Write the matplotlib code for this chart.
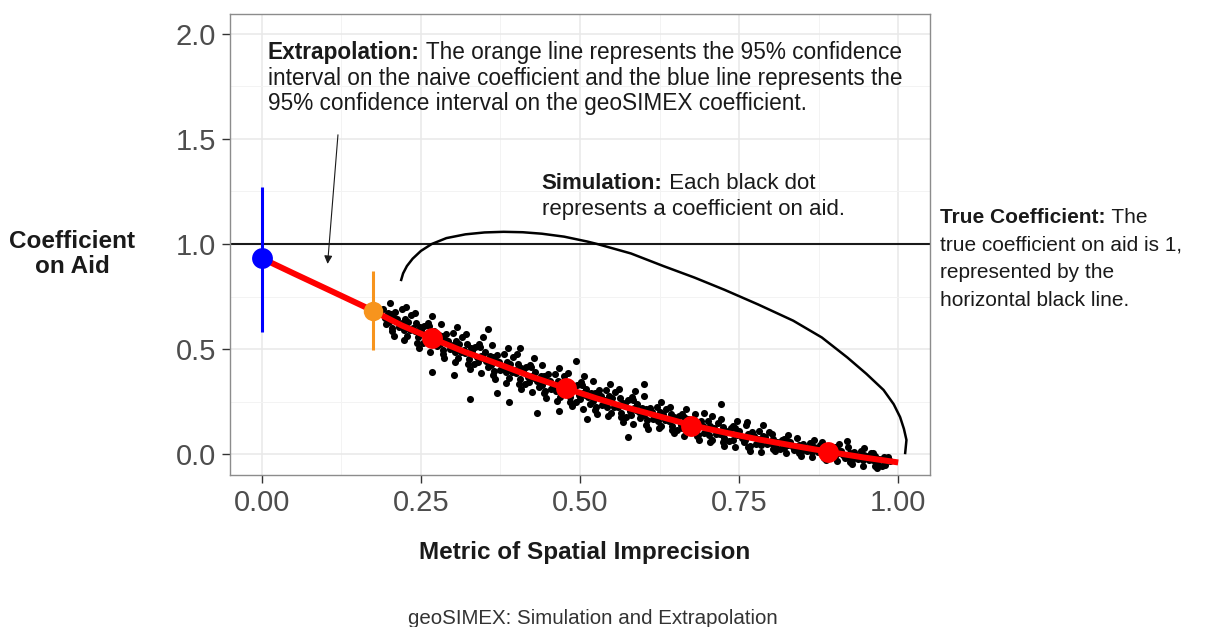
import matplotlib.pyplot as plt

plt.rcParams['font.family'] = 'Liberation Sans'

# simulated coefficients (black dots): dense core of the cloud
sim_x = [
    0.190, 0.193, 0.195, 0.198, 0.200, 0.203, 0.205, 0.208, 0.210, 0.213, 0.215, 0.218,
    0.220, 0.223, 0.225, 0.228, 0.230, 0.233, 0.235, 0.238, 0.240, 0.243, 0.245, 0.248,
    0.250, 0.253, 0.255, 0.258, 0.260, 0.263, 0.265, 0.268, 0.270, 0.273, 0.275, 0.278,
    0.280, 0.283, 0.285, 0.288, 0.290, 0.293, 0.295, 0.298, 0.300, 0.303, 0.305, 0.308,
    0.310, 0.313, 0.315, 0.318, 0.320, 0.323, 0.325, 0.328, 0.330, 0.333, 0.335, 0.338,
    0.340, 0.343, 0.345, 0.348, 0.350, 0.353, 0.355, 0.358, 0.360, 0.363, 0.365, 0.368,
    0.370, 0.373, 0.375, 0.378, 0.380, 0.383, 0.385, 0.388, 0.390, 0.393, 0.395, 0.398,
    0.400, 0.403, 0.405, 0.408, 0.410, 0.413, 0.415, 0.418, 0.420, 0.423, 0.425, 0.428,
    0.430, 0.433, 0.435, 0.438, 0.440, 0.443, 0.445, 0.448, 0.450, 0.453, 0.455, 0.458,
    0.460, 0.463, 0.465, 0.468, 0.470, 0.473, 0.475, 0.478, 0.480, 0.483, 0.485, 0.488,
    0.490, 0.493, 0.495, 0.498, 0.500, 0.503, 0.505, 0.508, 0.510, 0.513, 0.515, 0.518,
    0.520, 0.523, 0.525, 0.528, 0.530, 0.533, 0.535, 0.538, 0.540, 0.543, 0.545, 0.548,
    0.550, 0.553, 0.555, 0.558, 0.560, 0.563, 0.565, 0.568, 0.570, 0.573, 0.575, 0.578,
    0.580, 0.583, 0.585, 0.588, 0.590, 0.593, 0.595, 0.598, 0.600, 0.603, 0.605, 0.608,
    0.610, 0.613, 0.615, 0.618, 0.620, 0.623, 0.625, 0.628, 0.630, 0.633, 0.635, 0.638,
    0.640, 0.643, 0.645, 0.648, 0.650, 0.653, 0.655, 0.658, 0.660, 0.663, 0.665, 0.668,
    0.670, 0.673, 0.675, 0.678, 0.680, 0.683, 0.685, 0.688, 0.690, 0.693, 0.695, 0.698,
    0.700, 0.703, 0.705, 0.708,
    0.710, 0.714, 0.717, 0.720, 0.724, 0.727, 0.730, 0.734, 0.737, 0.740, 0.744, 0.747,
    0.750, 0.754, 0.757, 0.760, 0.764, 0.767, 0.770, 0.774, 0.777, 0.780, 0.784, 0.787,
    0.790, 0.794, 0.797, 0.800, 0.804, 0.807, 0.810, 0.814, 0.817, 0.820, 0.824, 0.827,
    0.830, 0.834, 0.837, 0.840, 0.844, 0.847, 0.850, 0.854, 0.857, 0.860, 0.864, 0.867,
    0.870, 0.874, 0.877, 0.880, 0.884, 0.887, 0.890, 0.894, 0.897, 0.900, 0.904, 0.907,
    0.910, 0.914, 0.917, 0.920, 0.924, 0.927, 0.930, 0.934, 0.937, 0.940, 0.944, 0.947,
    0.950, 0.954, 0.957, 0.960, 0.964, 0.967, 0.970, 0.974, 0.977, 0.980, 0.984, 0.987,
]
sim_y = [
    0.690, 0.650, 0.620, 0.670, 0.628, 0.668, 0.598, 0.648, 0.675, 0.645, 0.605, 0.615,
    0.622, 0.592, 0.642, 0.562, 0.630, 0.590, 0.660, 0.600, 0.585, 0.625, 0.555, 0.605,
    0.590, 0.530, 0.610, 0.560, 0.538, 0.608, 0.568, 0.558, 0.585, 0.545, 0.515, 0.565,
    0.523, 0.563, 0.493, 0.543, 0.570, 0.540, 0.500, 0.510, 0.518, 0.488, 0.538, 0.458,
    0.525, 0.485, 0.555, 0.495, 0.483, 0.523, 0.453, 0.503, 0.490, 0.430, 0.510, 0.460,
    0.438, 0.508, 0.468, 0.458, 0.485, 0.445, 0.415, 0.465, 0.423, 0.463, 0.393, 0.443,
    0.470, 0.440, 0.400, 0.410, 0.420, 0.390, 0.440, 0.360, 0.430, 0.390, 0.460, 0.400,
    0.388, 0.428, 0.358, 0.408, 0.395, 0.335, 0.415, 0.365, 0.343, 0.413, 0.373, 0.363,
    0.390, 0.350, 0.320, 0.370, 0.330, 0.370, 0.300, 0.350, 0.380, 0.350, 0.310, 0.320,
    0.330, 0.300, 0.350, 0.270, 0.340, 0.300, 0.370, 0.310, 0.300, 0.340, 0.270, 0.320,
    0.310, 0.250, 0.330, 0.280, 0.260, 0.330, 0.290, 0.280, 0.310, 0.270, 0.240, 0.290,
    0.252, 0.292, 0.222, 0.272, 0.305, 0.275, 0.235, 0.245, 0.255, 0.225, 0.275, 0.195,
    0.265, 0.225, 0.295, 0.235, 0.225, 0.265, 0.195, 0.245, 0.235, 0.175, 0.255, 0.205,
    0.188, 0.258, 0.218, 0.208, 0.240, 0.200, 0.170, 0.220, 0.185, 0.215, 0.160, 0.200,
    0.220, 0.200, 0.165, 0.175, 0.183, 0.158, 0.198, 0.133, 0.190, 0.160, 0.215, 0.165,
    0.155, 0.190, 0.135, 0.175, 0.165, 0.115, 0.180, 0.140, 0.123, 0.178, 0.148, 0.138,
    0.165, 0.130, 0.110, 0.150, 0.118, 0.148, 0.093, 0.133, 0.155, 0.135, 0.100, 0.110,
    0.118, 0.093, 0.133, 0.068,
    0.125, 0.095, 0.150, 0.095, 0.130, 0.075, 0.110, 0.060, 0.125, 0.068, 0.123, 0.093,
    0.110, 0.075, 0.055, 0.065, 0.095, 0.040, 0.105, 0.085, 0.050, 0.070, 0.045, 0.085,
    0.080, 0.050, 0.105, 0.053, 0.073, 0.038, 0.055, 0.025, 0.065, 0.030, 0.065, 0.045,
    0.055, 0.035, 0.020, 0.025, 0.045, 0.010, 0.050, 0.035, 0.015, 0.025, 0.010, 0.035,
    0.030, 0.010, 0.045, 0.010, 0.030, -0.005, 0.015, -0.015, 0.025, -0.010, 0.025, 0.005,
    0.015, -0.005, -0.020, -0.015, 0.005, -0.030, 0.010, -0.005, -0.025, -0.015, -0.030, -0.005,
    -0.010, -0.030, 0.005, -0.030, -0.010, -0.045, -0.025, -0.055, -0.015, -0.050, -0.015, -0.035,
]

# outer edge of the cloud and stray dots
tail_x = [
    0.201, 0.204, 0.207, 0.221, 0.224, 0.227, 0.241, 0.244, 0.247, 0.261, 0.264, 0.267,
    0.281, 0.284, 0.287, 0.301, 0.304, 0.307, 0.321, 0.324, 0.327, 0.341, 0.344, 0.347,
    0.361, 0.364, 0.367, 0.381, 0.384, 0.387, 0.401, 0.404, 0.407, 0.421, 0.424, 0.427,
    0.441, 0.444, 0.447, 0.461, 0.464, 0.467, 0.481, 0.484, 0.487, 0.501, 0.504, 0.507,
    0.521, 0.524, 0.527, 0.541, 0.544, 0.547, 0.561, 0.564, 0.567, 0.581, 0.584, 0.587,
    0.601, 0.604, 0.607, 0.621, 0.624, 0.627, 0.641, 0.644, 0.647, 0.661, 0.664, 0.667,
    0.681, 0.684, 0.687, 0.701, 0.704, 0.707, 0.721, 0.724, 0.727, 0.741, 0.744, 0.747,
    0.761, 0.764, 0.767, 0.781, 0.784, 0.787, 0.801, 0.804, 0.807, 0.821, 0.824, 0.827,
    0.841, 0.844, 0.847, 0.861, 0.864, 0.867, 0.881, 0.884, 0.887, 0.901, 0.904, 0.907,
    0.921, 0.924, 0.927, 0.941, 0.944, 0.947, 0.961, 0.964, 0.967,
    0.356, 0.327, 0.432, 0.494, 0.600, 0.722, 0.511, 0.576, 0.762, 0.920, 0.405, 0.389,
    0.267, 0.302, 0.370, 0.467, 0.695,
]
tail_y = [
    0.720, 0.585, 0.560, 0.690, 0.545, 0.700, 0.670, 0.530, 0.505, 0.625, 0.487, 0.655,
    0.620, 0.478, 0.455, 0.575, 0.437, 0.605, 0.570, 0.428, 0.405, 0.525, 0.387, 0.555,
    0.520, 0.378, 0.355, 0.477, 0.339, 0.507, 0.475, 0.333, 0.310, 0.425, 0.297, 0.455,
    0.424, 0.289, 0.267, 0.382, 0.254, 0.410, 0.384, 0.249, 0.227, 0.342, 0.214, 0.370,
    0.346, 0.211, 0.189, 0.307, 0.179, 0.335, 0.309, 0.174, 0.152, 0.270, 0.142, 0.298,
    0.274, 0.139, 0.117, 0.224, 0.122, 0.248, 0.224, 0.116, 0.098, 0.189, 0.087, 0.213,
    0.192, 0.084, 0.066, 0.159, 0.057, 0.183, 0.165, 0.057, 0.039, 0.134, 0.032, 0.158,
    0.140, 0.032, 0.014, 0.112, 0.010, 0.136, 0.097, 0.025, 0.013, 0.073, 0.005, 0.089,
    0.075, 0.003, -0.009, 0.053, -0.015, 0.069, 0.055, -0.017, -0.029, 0.033, -0.035, 0.049,
    0.035, -0.037, -0.049, 0.013, -0.055, 0.029, 0.005, -0.057, -0.065,
    0.594, 0.260, 0.197, 0.444, 0.333, 0.238, 0.165, 0.082, 0.154, 0.063, 0.506, 0.249,
    0.392, 0.376, 0.292, 0.206, 0.197,
]

# extrapolation curve (red line) and the averaged points on it
fit_x = [0.0, 0.05, 0.10, 0.175, 0.22, 0.267, 0.32, 0.375, 0.425, 0.478, 0.525,
         0.575, 0.625, 0.675, 0.73, 0.78, 0.835, 0.89, 0.945, 1.0]
fit_y = [0.932, 0.860, 0.789, 0.682, 0.612, 0.551, 0.485, 0.425, 0.367, 0.313, 0.266,
         0.22, 0.179, 0.137, 0.101, 0.070, 0.040, 0.011, -0.016, -0.04]
mean_x = [0.267, 0.478, 0.675, 0.89]
mean_y = [0.551, 0.313, 0.133, 0.011]

# naive (orange) and geoSIMEX (blue) estimates with 95% CI
naive_x, naive_y, naive_lo, naive_hi = 0.175, 0.682, 0.495, 0.873
geo_x, geo_y, geo_lo, geo_hi = 0.0, 0.932, 0.583, 1.273
true_coef = 1.0

# curved pointer from the simulation note, and the extrapolation arrow
arc_x = [0.219, 0.222, 0.228, 0.237, 0.250, 0.267, 0.290, 0.320, 0.350, 0.380, 0.410,
         0.440, 0.475, 0.511, 0.527, 0.580, 0.631, 0.680, 0.727, 0.780, 0.835, 0.880,
         0.920, 0.950, 0.977, 0.993, 1.003, 1.009, 1.013, 1.011]
arc_y = [0.829, 0.860, 0.895, 0.930, 0.967, 1.000, 1.028, 1.046, 1.055, 1.058, 1.056,
         1.049, 1.035, 1.012, 1.000, 0.955, 0.895, 0.840, 0.782, 0.712, 0.635, 0.555,
         0.460, 0.382, 0.305, 0.237, 0.176, 0.120, 0.067, 0.005]
arrow_from = (0.120, 1.533)
arrow_to = (0.103, 0.892)

fig = plt.figure(figsize=(12.1, 6.27), dpi=100)
ax = fig.add_axes([230 / 1210, 1 - 475 / 627, 700 / 1210, 461 / 627])

ax.set_xlim(-0.05, 1.05)
ax.set_ylim(-0.0998, 2.095)
ax.set_xticks([0, 0.25, 0.5, 0.75, 1.0])
ax.set_xticklabels(['0.00', '0.25', '0.50', '0.75', '1.00'])
ax.set_yticks([0, 0.5, 1.0, 1.5, 2.0])
ax.set_yticklabels(['0.0', '0.5', '1.0', '1.5', '2.0'])
ax.set_xticks([0.125, 0.375, 0.625, 0.875], minor=True)
ax.set_yticks([0.25, 0.75, 1.25, 1.75], minor=True)
ax.grid(which='major', color='#e8e8e8', lw=1.1)
ax.grid(which='minor', color='#f3f3f3', lw=0.7)
ax.set_axisbelow(True)
ax.tick_params(which='major', labelsize=21, labelcolor='#4d4d4d', color='#333333',
               length=6, width=1, pad=4)
ax.tick_params(which='minor', length=0)
for s in ax.spines.values():
    s.set_color('#8c8c8c')
    s.set_linewidth(1)

ax.axhline(true_coef, color='#1a1a1a', lw=1.5, zorder=2)
ax.scatter(sim_x, sim_y, s=26, color='black', linewidths=0, zorder=3)
ax.scatter(tail_x, tail_y, s=26, color='black', linewidths=0, zorder=3)
ax.plot(fit_x, fit_y, color='#ff0000', lw=4.3, solid_capstyle='butt', zorder=4)
ax.plot(mean_x, mean_y, 'o', color='#ff0000', ms=15, mec='none', zorder=5)
ax.vlines(geo_x, geo_lo, geo_hi, color='#0000ff', lw=2.2, zorder=5)
ax.plot(geo_x, geo_y, 'o', color='#0000ff', ms=15, mec='none', zorder=6)
ax.vlines(naive_x, naive_lo, naive_hi, color='#f7941d', lw=2.2, zorder=5)
ax.plot(naive_x, naive_y, 'o', color='#f7941d', ms=14, mec='none', zorder=6)
ax.plot(arc_x, arc_y, color='black', lw=1.8, zorder=6, clip_on=False,
        solid_joinstyle='round')
ax.annotate('', xy=arrow_to, xytext=arrow_from,
            arrowprops=dict(arrowstyle='-|>', color='#1a1a1a', lw=0.8, mutation_scale=12))

txt_c = '#1a1a1a'
fs = 16.3


def note(x, y, bold, rest, size=fs):
    t = ax.text(x, y, bold, fontsize=size, fontweight='bold', color=txt_c,
                va='center', ha='left', clip_on=False)
    ax.annotate(rest, xy=(1, 0.5), xycoords=t, fontsize=size, color=txt_c,
                va='center', ha='left', annotation_clip=False)


def plain(x, y, s, size=fs):
    ax.text(x, y, s, fontsize=size, color=txt_c, va='center', ha='left', clip_on=False)


note(0.0097, 1.91, 'Extrapolation:', ' The orange line represents the 95% confidence')
plain(0.0097, 1.79, 'interval on the naive coefficient and the blue line represents the')
plain(0.0097, 1.67, '95% confidence interval on the geoSIMEX coefficient.')

note(0.44, 1.286, 'Simulation:', ' Each black dot', 16)
plain(0.44, 1.162, 'represents a coefficient on aid.', 16)

fs2 = 15
note(1.066, 1.124, 'True Coefficient:', ' The', fs2)
plain(1.066, 0.995, 'true coefficient on aid is 1,', fs2)
plain(1.066, 0.862, 'represented by the', fs2)
plain(1.066, 0.733, 'horizontal black line.', fs2)

fig.text(72 / 1210, 1 - 254 / 627, 'Coefficient\non Aid', fontsize=17.5,
         fontweight='bold', color=txt_c, ha='center', va='center', linespacing=1.15)
fig.text(585 / 1210, 1 - 552 / 627, 'Metric of Spatial Imprecision', fontsize=17.5,
         fontweight='bold', color=txt_c, ha='center', va='center')
fig.text(593 / 1210, 1 - 618 / 627, 'geoSIMEX: Simulation and Extrapolation',
         fontsize=14.8, color='#333333', ha='center', va='center')

fig.savefig('out.png', dpi=100)
